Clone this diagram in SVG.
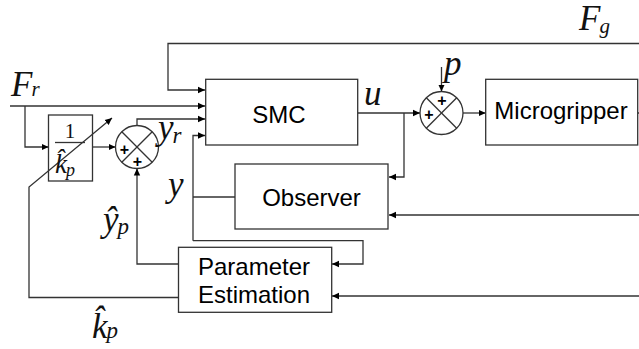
<svg xmlns="http://www.w3.org/2000/svg" width="639" height="349" viewBox="0 0 639 349">
<defs>
<marker id="ah" markerWidth="8" markerHeight="8" refX="7" refY="4" orient="auto" markerUnits="userSpaceOnUse">
<path d="M0,0.8 L7,4 L0,7.2 Z" fill="#000"/>
</marker>
</defs>
<style>
.box{fill:#fff;stroke:#333;stroke-width:1.3}
.ln{fill:none;stroke:#333;stroke-width:1.3}
.ar{fill:none;stroke:#333;stroke-width:1.3;marker-end:url(#ah)}
.lbl{font-family:"Liberation Sans",Arial,sans-serif;font-size:24px;fill:#000}
.pl{font-family:"Liberation Sans",Arial,sans-serif;font-size:16px;font-weight:bold;fill:#000;text-anchor:middle}
.m{font-family:"Liberation Serif","Times New Roman",serif;font-style:italic;fill:#111}
.n{font-family:"Liberation Serif","Times New Roman",serif;fill:#111}
</style>
<rect width="639" height="349" fill="#fff"/>

<g id="connectors">
<polyline class="ar" points="639,43.5 168,43.5 168,90 205,90"/>
<polyline class="ar" points="10,106 205,106"/>
<polyline class="ar" points="25,106 25,147 48.5,147"/>
<polyline class="ar" points="92.5,147 115.5,147"/>
<polyline class="ar" points="137,125.5 137,119 205,119"/>
<polyline class="ar" points="193,240.7 193,135.5 205,135.5"/>
<polyline class="ln" points="193,197 235,197"/>
<polyline class="ar" points="193,240.7 363,240.7 363,264 332,264"/>
<polyline class="ar" points="358,113 420,113"/>
<polyline class="ar" points="404,113 404,177 389,177"/>
<polyline class="ar" points="441.5,67 441.5,91.5"/>
<polyline class="ar" points="463,113 485.7,113"/>
<polyline class="ln" points="637.7,113 639,113"/>
<polyline class="ar" points="639,215 389,215"/>
<polyline class="ar" points="639,296 332,296"/>
<polyline class="ar" points="178.5,264 137,264 137,168.5"/>
<polyline class="ar" points="178.5,297.5 29,297.5 29,187 112,118"/>
</g>

<g id="smc">
<rect class="box" x="205.7" y="79.3" width="152" height="65.7"/>
<text class="lbl" x="279" y="123" text-anchor="middle">SMC</text>
</g>

<g id="microgripper">
<rect class="box" x="485.7" y="79.3" width="152" height="65.7"/>
<text class="lbl" x="561" y="119.3" text-anchor="middle">Microgripper</text>
</g>

<g id="observer">
<rect class="box" x="235" y="164" width="153" height="65"/>
<text class="lbl" x="311.5" y="206" text-anchor="middle">Observer</text>
</g>

<g id="parameter-estimation">
<rect class="box" x="178.5" y="247.3" width="153.2" height="65"/>
<text class="lbl" x="254" y="275" text-anchor="middle">Parameter</text>
<text class="lbl" x="254" y="303" text-anchor="middle">Estimation</text>
</g>

<g id="gain">
<rect x="48.5" y="115" width="44" height="66" fill="none" stroke="#333" stroke-width="1.3"/>
<text class="n" x="70" y="138" font-size="21" text-anchor="middle">1</text>
<line class="ln" x1="55" y1="142.5" x2="85" y2="142.5"/>
<text class="m" x="55" y="173" font-size="27">k̂<tspan font-size="18" dx="-1" dy="3">p</tspan></text>
</g>

<g id="sum1">
<circle class="box" cx="137" cy="147" r="21.5"/>
<line class="ln" x1="121.8" y1="131.8" x2="152.2" y2="162.2"/>
<line class="ln" x1="152.2" y1="131.8" x2="121.8" y2="162.2"/>
<text class="pl" x="124.5" y="154.5">+</text>
<text class="pl" x="137.5" y="166.5">+</text>
</g>

<g id="sum2">
<circle class="box" cx="441.5" cy="113" r="21.5"/>
<line class="ln" x1="426.3" y1="97.8" x2="456.7" y2="128.2"/>
<line class="ln" x1="456.7" y1="97.8" x2="426.3" y2="128.2"/>
<text class="pl" x="442" y="106">+</text>
<text class="pl" x="429" y="119.5">+</text>
</g>

<g id="labels">
<text class="m" x="11" y="96" font-size="35">F<tspan font-size="21" dx="-1" dy="0">r</tspan></text>
<text class="m" x="579" y="30" font-size="35">F<tspan font-size="21" dx="-1" dy="3">g</tspan></text>
<text class="m" x="364" y="105" font-size="35">u</text>
<text class="m" x="444" y="75" font-size="35">p</text>
<text class="m" x="158" y="139" font-size="35">y<tspan font-size="23" dx="-1" dy="4">r</tspan></text>
<text class="m" x="168" y="196" font-size="35">y</text>
<text class="m" x="103" y="231" font-size="35">ŷ<tspan font-size="23" dx="-1" dy="3">p</tspan></text>
<text class="m" x="92" y="338" font-size="35">k̂<tspan font-size="23" dx="-1" dy="0">p</tspan></text>
</g>
</svg>
